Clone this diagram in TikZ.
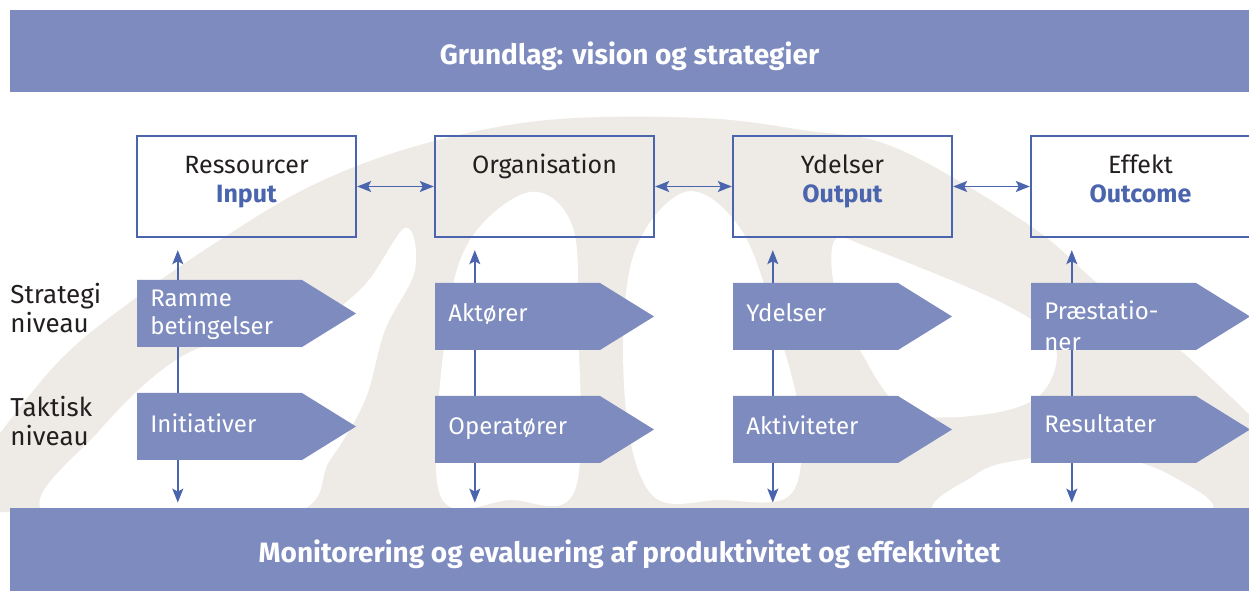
\documentclass[tikz,border=0pt]{standalone}
\usepackage{fontspec}
\setmainfont{Fira Sans}
\usetikzlibrary{calc,arrows.meta}
\definecolor{bandblue}{RGB}{126,139,190}
\definecolor{lineblue}{RGB}{74,101,173}
\definecolor{wmgrey}{RGB}{238,235,230}
\definecolor{txtblack}{RGB}{35,31,32}
\newcommand{\chevpath}[2]{(#1,#2) -- ++(165,0) -- ++(54,33.5) -- ++(-54,33.5) -- ++(-165,0) -- cycle}

\begin{document}
\begin{tikzpicture}[x=0.5pt, y=-0.5pt,
    >={Stealth[length=7pt,width=5.5pt,inset=1.5pt]},
    band/.style={fill=bandblue, minimum width=619.5pt, minimum height=41pt, inner sep=0pt},
    bandtext/.style={text=white, inner sep=0pt, font=\fontsize{14}{16}\selectfont\bfseries},
    topbox/.style={draw=lineblue, line width=1.2pt, minimum width=109.5pt, minimum height=50.5pt, inner sep=0pt},
    boxtext/.style={align=center, text=txtblack, inner sep=0pt, font=\fontsize{12.5}{14.5}\selectfont},
    chevtext/.style={align=left, text=white, inner sep=0pt, font=\fontsize{12}{14}\selectfont},
    sidetext/.style={align=left, text=txtblack, inner sep=0pt, font=\fontsize{13}{14.5}\selectfont},
    link/.style={draw=lineblue, line width=0.7pt}]
    \clip (0,0) rectangle (1249,593);
    \fill[white] (0,0) rectangle (1249,593);

    \fill[wmgrey] plot[smooth, tension=0.6] coordinates {(-5,440) (60,360) (133,300) (220,240) (313,185) (420,145) (548,120) (700,118) (802,130) (896,148) (1029,225) (1096,282) (1180,350) (1255,420)} -- (1255,512) -- (-5,512) -- cycle;
    \fill[white] plot[smooth cycle, tension=0.6] coordinates {(48,515) (100,430) (190,352) (290,335) (360,290) (405,228) (415,270) (385,330) (365,400) (330,460) (285,515)};
    \fill[white] plot[smooth cycle, tension=0.6] coordinates {(440,495) (446,330) (470,240) (530,192) (572,225) (578,320) (575,490) (510,500)};
    \fill[white] plot[smooth cycle, tension=0.6] coordinates {(652,495) (625,400) (632,260) (685,192) (740,228) (775,320) (800,420) (790,495) (720,500)};
    \fill[white] plot[smooth cycle, tension=0.6] coordinates {(835,240) (870,248) (1006,305) (1055,345) (1040,395) (980,415) (905,410) (860,350) (835,290)};
    \fill[white] plot[smooth cycle, tension=0.6] coordinates {(945,515) (975,475) (1020,460) (1100,455) (1170,475) (1200,515)};

    \node[band] (grund) at (629.5,51) {};
    \node[bandtext, anchor=base] (grund-t) at (629.5,65) {Grundlag: vision og strategier};
    \node[band, minimum height=41.5pt] (mon) at (629.5,549.5) {};
    \node[bandtext, anchor=base] (mon-t) at (629.5,562) {Monitorering og evaluering af produktivitet og effektivitet};

    \node[topbox] (res) at (246.5,186.5) {};
    \node[topbox] (org) at (544.5,186.5) {};
    \node[topbox] (yd) at (842.5,186.5) {};
    \node[topbox] (eff) at (1140.5,186.5) {};
    \node[boxtext, anchor=base] (res-t) at (res.center |- 0,203) {Ressourcer\\\textcolor{lineblue}{\bfseries Input}};
    \node[boxtext, anchor=base] (org-t) at (org.center |- 0,174) {Organisation};
    \node[boxtext, anchor=base] (yd-t) at (yd.center |- 0,203) {Ydelser\\\textcolor{lineblue}{\bfseries Output}};
    \node[boxtext, anchor=base] (eff-t) at (eff.center |- 0,203) {Effekt\\\textcolor{lineblue}{\bfseries Outcome}};

    \draw[link, <->] (res.east) -- (org.west);
    \draw[link, <->] (org.east) -- (yd.west);
    \draw[link, <->] (yd.east) -- (eff.west);

    \draw[link, <->] ($(res.south west)+(42,12)$) -- ($(res.south west |- mon.north)+(42,-5)$);
    \draw[link, <->] ($(org.south west)+(41,12)$) -- ($(org.south west |- mon.north)+(41,-5)$);
    \draw[link, <->] ($(yd.south west)+(41,12)$) -- ($(yd.south west |- mon.north)+(41,-5)$);
    \draw[link, <->] ($(eff.south west)+(42,12)$) -- ($(eff.south west |- mon.north)+(42,-5)$);

    \fill[bandblue] \chevpath{137}{280};
    \fill[bandblue] \chevpath{137}{393};
    \fill[bandblue] \chevpath{435}{283};
    \fill[bandblue] \chevpath{435}{396};
    \fill[bandblue] \chevpath{733}{283};
    \fill[bandblue] \chevpath{733}{396};
    \fill[bandblue] \chevpath{1031}{283};
    \fill[bandblue] \chevpath{1031}{396};

    \node[chevtext, anchor=base west] (ramme) at (150,335) {Ramme\\betingelser};
    \node[chevtext, anchor=base west] (init) at (150,433) {Initiativer};
    \node[chevtext, anchor=base west] (akt) at (448,322) {Aktører};
    \node[chevtext, anchor=base west] (oper) at (448,435) {Operatører};
    \node[chevtext, anchor=base west] (ydel) at (746,322) {Ydelser};
    \node[chevtext, anchor=base west] (aktiv) at (746,435) {Aktiviteter};
    \begin{scope}
        \clip \chevpath{1031}{283};
        \node[chevtext, anchor=base west, font=\fontsize{12}{15.5}\selectfont] (praest) at (1044,351) {Præstatio-\\ner};
    \end{scope}
    \node[chevtext, anchor=base west] (result) at (1044,433) {Resultater};

    \node[sidetext, anchor=base west] (strat) at (10,333) {Strategi\\niveau};
    \node[sidetext, anchor=base west] (takt) at (10,445) {Taktisk\\niveau};
\end{tikzpicture}
\end{document}
